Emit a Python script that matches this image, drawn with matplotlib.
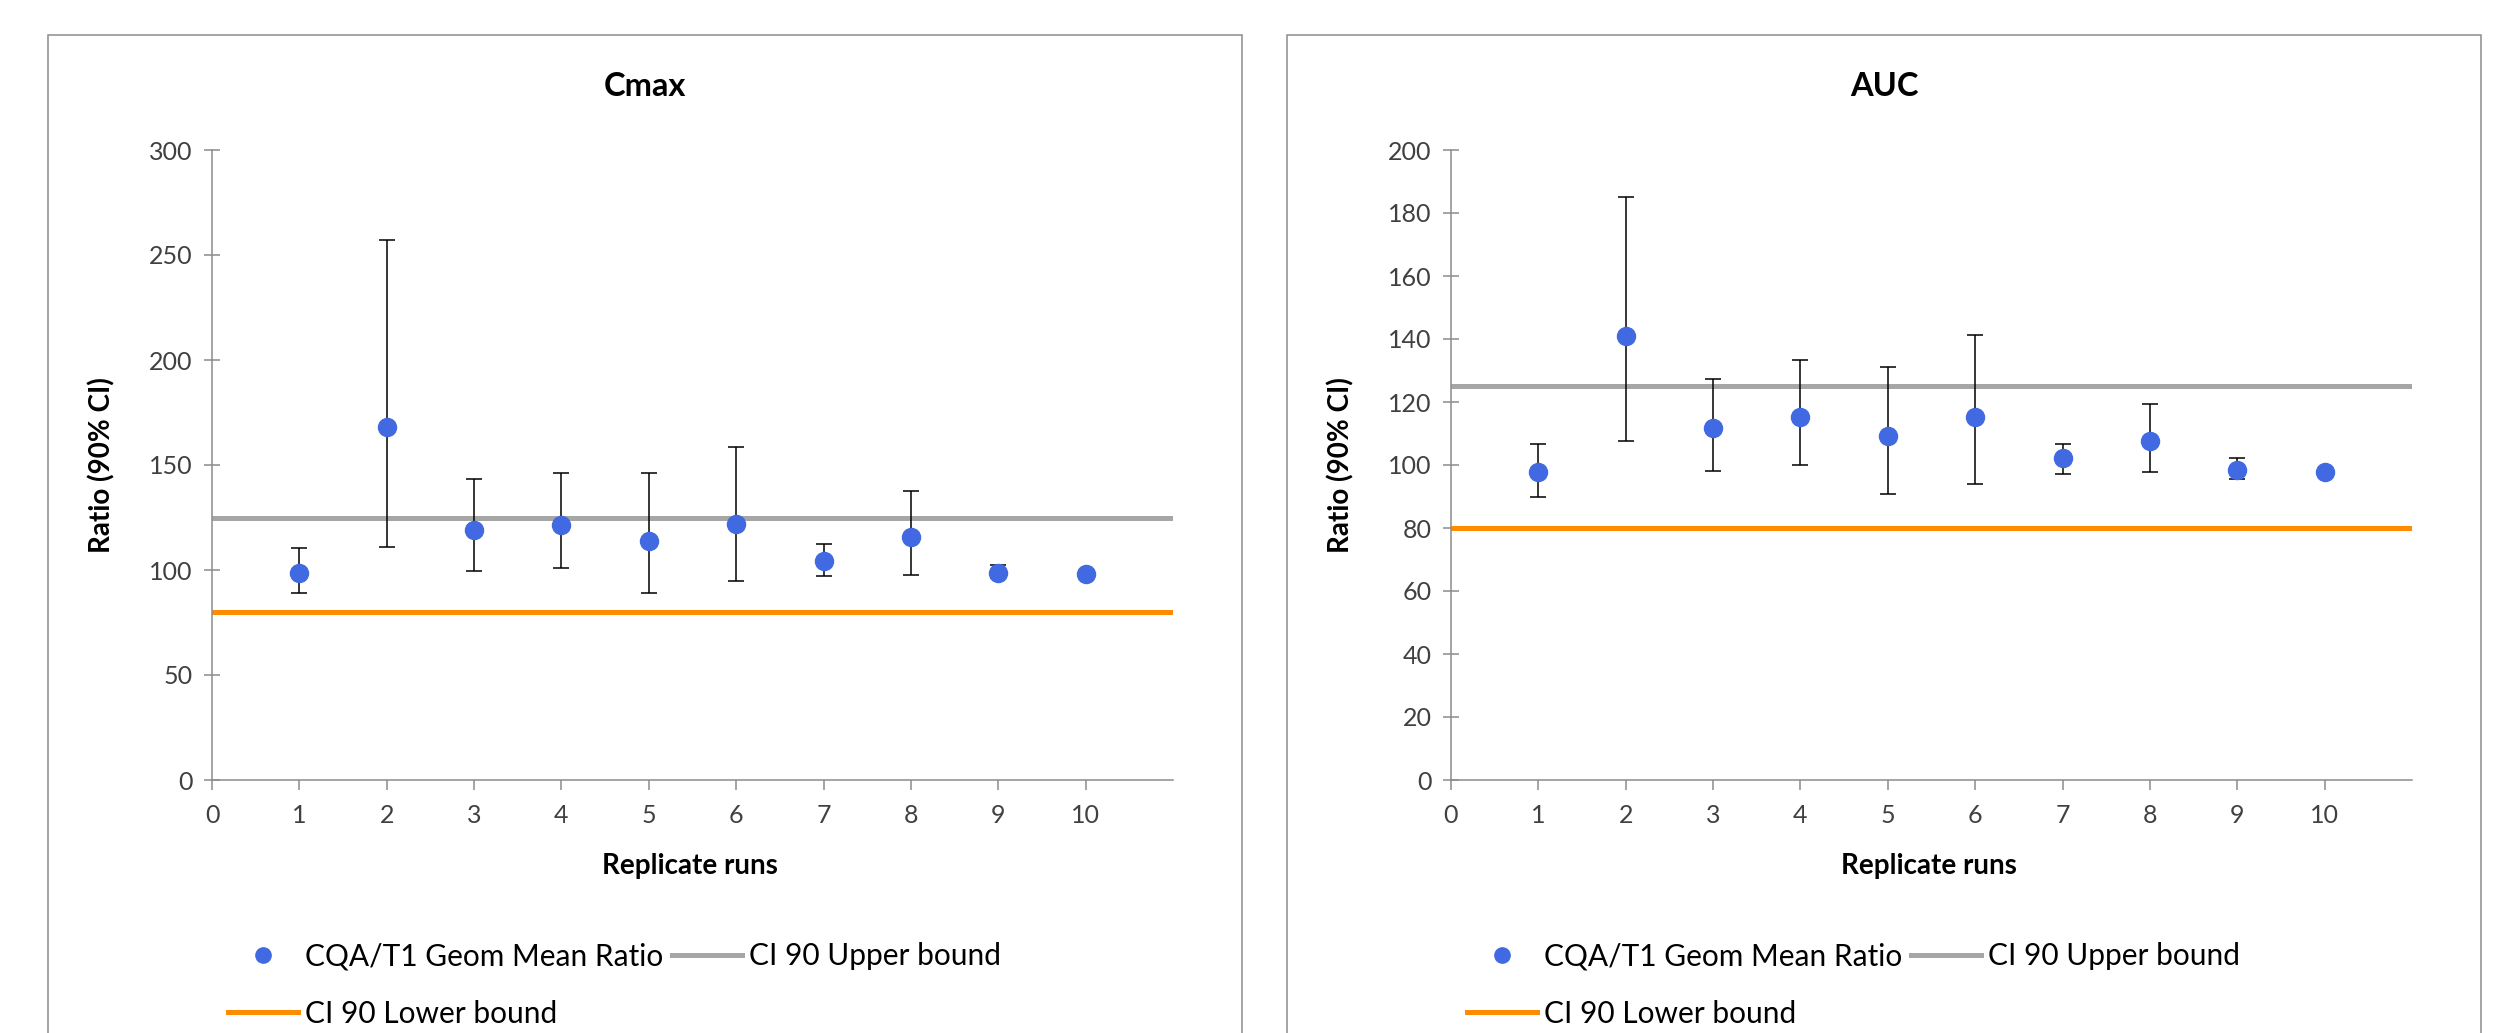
import matplotlib
matplotlib.use("Agg")
from matplotlib import pyplot as plt
from matplotlib.lines import Line2D
from matplotlib.patches import Rectangle

plt.rcParams["font.family"] = ["Lato", "DejaVu Sans"]

runs = [1, 2, 3, 4, 5, 6, 7, 8, 9, 10]

cmax_ratio = [98.7, 168.3, 118.9, 121.5, 114.0, 122.1, 104.3, 115.5, 98.7, 97.9]
cmax_low = [88.9, 110.9, 99.4, 101.1, 88.9, 94.7, 97.0, 97.7, 96.2, 97.4]
cmax_high = [110.6, 257.0, 143.2, 146.4, 146.4, 158.5, 112.3, 137.7, 102.6, 98.4]

auc_ratio = [97.8, 140.8, 111.8, 115.1, 109.1, 115.1, 102.1, 107.7, 98.4, 97.8]
auc_low = [89.7, 107.6, 98.2, 99.9, 90.7, 94.0, 97.2, 97.8, 95.7, 97.4]
auc_high = [106.7, 185.0, 127.4, 133.2, 131.1, 141.4, 106.7, 119.3, 102.1, 98.2]

ci_upper = 125
ci_lower = 80

cmax_yticks = [0, 50, 100, 150, 200, 250, 300]
auc_yticks = [0, 20, 40, 60, 80, 100, 120, 140, 160, 180, 200]
xticks = [0, 1, 2, 3, 4, 5, 6, 7, 8, 9, 10]

W, H = 2499, 1033
fig = plt.figure(figsize=(W / 100, H / 100), dpi=100)

blue = "#4169E1"
gray_line = "#A6A6A6"
orange = "#FF8C00"
axis_gray = "#8C8C8C"
fs = 18
lab_fs = 20
leg_fs = 21.5


def panel(offset, title, ratio, low, high, yticks):
    # outer chart border (bottom is cut off in the original)
    fig.patches.append(Rectangle(((48 + offset) / W, -0.05), 1194 / W, (H - 35) / H + 0.05,
                                 transform=fig.transFigure, fill=False,
                                 ec=axis_gray, lw=1.1, zorder=0))
    ax = fig.add_axes([(212 + offset) / W, 1 - 780 / H, 961 / W, 630 / H])
    yerr = [[r - l for r, l in zip(ratio, low)], [h - r for r, h in zip(ratio, high)]]
    ax.errorbar(runs, ratio, yerr=yerr, fmt="none", ecolor="black",
                elinewidth=1.1, capsize=6, capthick=1.1, zorder=3)
    ax.plot(runs, ratio, "o", color=blue, markersize=13, zorder=4)
    ax.axhline(ci_upper, color=gray_line, lw=3.6, zorder=2)
    ax.axhline(ci_lower, color=orange, lw=3.6, zorder=2)

    ax.set_xlim(0, 11)
    ax.set_ylim(yticks[0], yticks[-1])
    ax.set_xticks(xticks)
    ax.set_yticks(yticks)
    for s in ["top", "right"]:
        ax.spines[s].set_visible(False)
    for s in ["left", "bottom"]:
        ax.spines[s].set_color(axis_gray)
        ax.spines[s].set_linewidth(1.1)
    ax.tick_params(axis="y", direction="inout", length=12, width=1.1,
                   color=axis_gray, labelsize=fs, labelcolor="#404040", pad=8)
    ax.tick_params(axis="x", direction="out", length=7, width=1.1,
                   color=axis_gray, labelsize=fs, labelcolor="#404040", pad=10)

    ax.set_ylabel("Ratio (90% CI)", fontsize=lab_fs, fontweight="bold")
    ax.yaxis.set_label_coords((115 - 212) / 961, 0.5)
    ax.set_xlabel("Replicate runs", fontsize=lab_fs, fontweight="bold")
    ax.xaxis.set_label_coords(0.497, -(866 - 780) / 630)
    ax.xaxis.label.set_va("center")

    fig.text((645 + offset) / W, 1 - 87 / H, title, fontsize=23.5,
             fontweight="bold", ha="center", va="center")

    handles = [
        Line2D([], [], ls="none", marker="o", color=blue, markersize=11),
        Line2D([], [], color=orange, lw=3.6),
        Line2D([], [], color=gray_line, lw=3.6),
    ]
    labels = ["CQA/T1 Geom Mean Ratio", "CI 90 Lower bound", "CI 90 Upper bound"]
    ax.legend(handles, labels, ncol=2, loc="upper left",
              bbox_to_anchor=((228 + offset) / W, 1 - 942 / H),
              bbox_transform=fig.transFigure, frameon=False, fontsize=leg_fs,
              handlelength=2.35, handletextpad=0.23, columnspacing=0.3,
              labelspacing=1.0, borderpad=0, borderaxespad=0)
    return ax


panel(0, "Cmax", cmax_ratio, cmax_low, cmax_high, cmax_yticks)
panel(1239, "AUC", auc_ratio, auc_low, auc_high, auc_yticks)

fig.savefig("out.png", dpi=100)
